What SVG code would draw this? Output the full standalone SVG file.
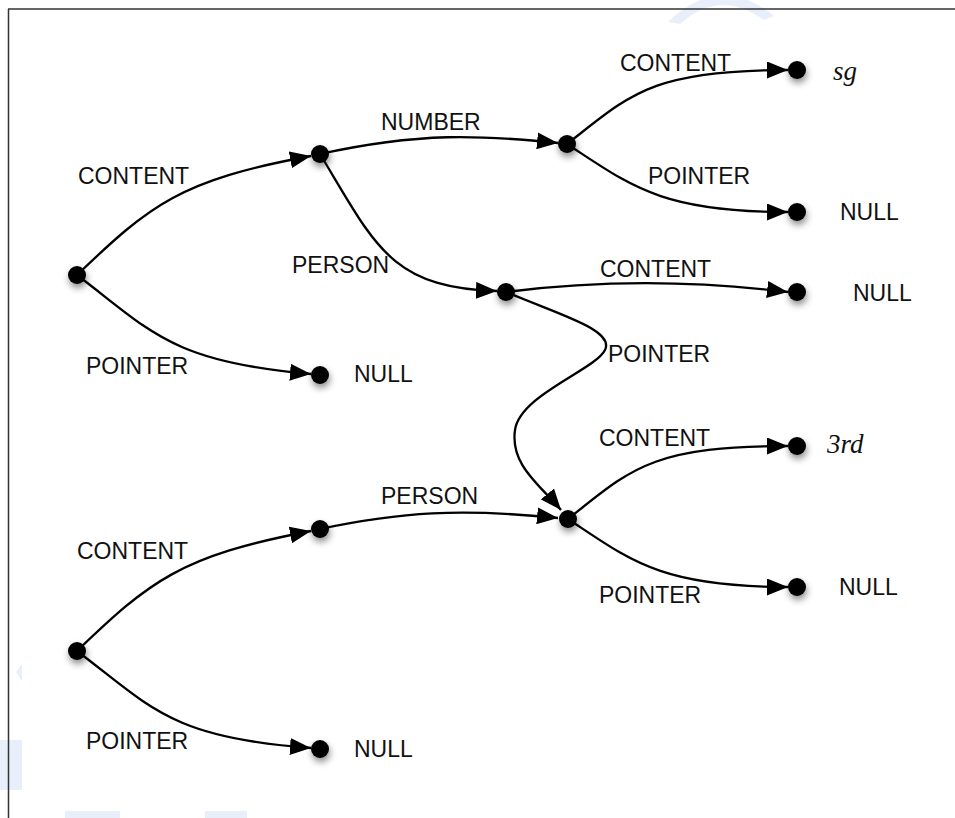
<svg xmlns="http://www.w3.org/2000/svg" width="955" height="818" viewBox="0 0 955 818">
<style>
.lbl{font-family:"Liberation Sans",Arial,sans-serif;font-size:23px;fill:#111}
.val{font-family:"Liberation Serif","Times New Roman",serif;font-size:27px;font-style:italic;fill:#111}
.edge{fill:none;stroke:#000;stroke-width:2.3;marker-end:url(#arr)}
.node{fill:#000;filter:url(#sh)}
.wm{fill:#e9eefb;stroke:none}
</style>
<defs>
<marker id="arr" markerUnits="userSpaceOnUse" markerWidth="22" markerHeight="17" refX="21" refY="8.5" orient="auto" viewBox="0 0 22 17">
<path d="M0,0 L21,8.5 L0,17 z" fill="#000"/>
</marker>
<filter id="sh" x="-100%" y="-100%" width="300%" height="300%">
<feDropShadow dx="1" dy="4" stdDeviation="3.5" flood-color="#000" flood-opacity="0.45"/>
</filter>
</defs>
<rect width="955" height="818" fill="#fff"/>
<g id="watermark">
<path class="wm" d="M668,22 Q720,-28 774,16 L764,20 Q720,-12 680,24 z"/>
<path class="wm" d="M16,672 L22,664 L22,681 z"/>
<rect class="wm" x="0" y="740" width="22" height="50"/>
<rect class="wm" x="65" y="811" width="55" height="7"/>
<rect class="wm" x="205" y="811" width="42" height="7"/>
</g>
<g id="frame" stroke="#333" stroke-width="1.5" fill="none">
<line x1="8" y1="9" x2="955" y2="9"/>
<line x1="8.5" y1="9" x2="8.5" y2="818"/>
</g>
<g id="connectors">
<path class="edge" d="M77,275 C150,205 180,180 311,156"/>
<path class="edge" d="M77,275 C150,330 170,362 311,374"/>
<path class="edge" d="M320,154 C420,132 480,135 558,143"/>
<path class="edge" d="M320,154 C375,245 390,288 497,291"/>
<path class="edge" d="M567,144 C630,95 650,70 788,70"/>
<path class="edge" d="M567,144 C630,185 660,212 788,212"/>
<path class="edge" d="M506,292 C600,280 690,280 788,292"/>
<path class="edge" d="M506,292 C560,315 615,330 605,350 C595,370 520,395 515,430 C510,465 540,485 561,510"/>
<path class="edge" d="M77,651 C150,581 180,556 311,531"/>
<path class="edge" d="M77,651 C150,706 170,738 311,748"/>
<path class="edge" d="M320,529 C400,512 460,508 558,518"/>
<path class="edge" d="M568,519 C630,470 650,446 788,446"/>
<path class="edge" d="M568,519 C630,560 660,587 788,587"/>
</g>
<g id="n_a1"><circle class="node" cx="77" cy="275" r="9"/></g>
<g id="n_b1"><circle class="node" cx="320" cy="154" r="9"/></g>
<g id="n_c1"><circle class="node" cx="567" cy="144" r="9"/></g>
<g id="n_d1"><circle class="node" cx="797" cy="70" r="9"/><text class="val" x="833" y="80">sg</text></g>
<g id="n_d2"><circle class="node" cx="797" cy="212" r="9"/><text class="lbl" x="840" y="220">NULL</text></g>
<g id="n_e1"><circle class="node" cx="506" cy="292" r="9"/></g>
<g id="n_f1"><circle class="node" cx="797" cy="292" r="9"/><text class="lbl" x="853" y="301">NULL</text></g>
<g id="n_g1"><circle class="node" cx="320" cy="375" r="9"/><text class="lbl" x="354" y="382">NULL</text></g>
<g id="n_h"><circle class="node" cx="568" cy="519" r="9"/></g>
<g id="n_i1"><circle class="node" cx="797" cy="446" r="9"/><text class="val" x="827" y="453">3rd</text></g>
<g id="n_i2"><circle class="node" cx="797" cy="587" r="9"/><text class="lbl" x="839" y="595">NULL</text></g>
<g id="n_a2"><circle class="node" cx="77" cy="651" r="9"/></g>
<g id="n_b2"><circle class="node" cx="320" cy="529" r="9"/></g>
<g id="n_g2"><circle class="node" cx="320" cy="749" r="9"/><text class="lbl" x="354" y="757">NULL</text></g>
<g id="labels">
<text class="lbl" x="78" y="184">CONTENT</text>
<text class="lbl" x="86" y="374">POINTER</text>
<text class="lbl" x="292" y="273">PERSON</text>
<text class="lbl" x="381" y="130">NUMBER</text>
<text class="lbl" x="620" y="71">CONTENT</text>
<text class="lbl" x="648" y="184">POINTER</text>
<text class="lbl" x="600" y="277">CONTENT</text>
<text class="lbl" x="608" y="362">POINTER</text>
<text class="lbl" x="599" y="446">CONTENT</text>
<text class="lbl" x="599" y="603">POINTER</text>
<text class="lbl" x="381" y="504">PERSON</text>
<text class="lbl" x="77" y="559">CONTENT</text>
<text class="lbl" x="86" y="749">POINTER</text>
</g>
</svg>
